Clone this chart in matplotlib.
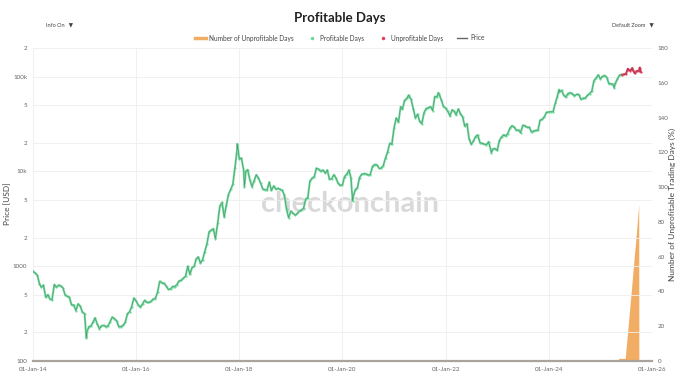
import pandas as pd
import numpy as np
import matplotlib
matplotlib.use('Agg')
import matplotlib.pyplot as plt
from matplotlib.lines import Line2D

plt.rcParams['font.family'] = ['Lato', 'DejaVu Sans']

# bitcoin price (USD) at the start of each month, Jan-2014 .. Oct-2025
start_dates = pd.date_range('2014-01-01', '2025-10-01', freq='MS')
start_usd = [
    # 2014
    880, 800, 600, 470, 450, 640, 630, 590, 480, 390, 340, 380,
    # 2015
    315, 230, 255, 245, 235, 230, 260, 280, 230, 238, 315, 375,
    # 2016
    430, 370, 435, 415, 450, 530, 670, 620, 575, 610, 700, 750,
    # 2017
    1000, 970, 1190, 1080, 1420, 2300, 2480, 2870, 4700, 4400, 6450, 10900,
    # 2018
    13500, 10200, 10400, 6900, 9200, 7500, 6400, 7700, 7000, 6600, 6300, 4000,
    # 2019
    3800, 3450, 3800, 4100, 5300, 8500, 10800, 10000, 9600, 8300, 9200, 7500,
    # 2020
    7200, 9350, 8600, 6400, 8600, 9450, 9150, 11300, 11700, 10800, 13800, 19700,
    # 2021
    29000, 33100, 45200, 58800, 57800, 36700, 33600, 41500, 47100, 43800, 61300, 56900,
    # 2022
    46300, 38500, 43200, 45500, 37700, 31800, 19300, 23300, 20100, 19400, 20500, 17200,
    # 2023
    16600, 23100, 23600, 28500, 29300, 27200, 30500, 29200, 25900, 27000, 34600, 37700,
    # 2024
    42300, 42600, 61200, 71300, 60600, 67500, 62700, 64600, 58900, 63300, 70200, 96400,
    # 2025
    94400, 102400, 84400, 82500, 94200, 104600, 107100, 115700, 108200, 114000,
]

# bitcoin price (USD) in the middle of each month, Jan-2014 .. Sep-2025
mid_dates = pd.date_range('2014-01-01', '2025-09-01', freq='MS') + pd.Timedelta(days=15)
mid_usd = [
    # 2014
    850, 650, 630, 500, 445, 600, 620, 500, 470, 390, 400, 330,
    # 2015
    200, 235, 285, 220, 237, 235, 290, 265, 230, 255, 330, 460,
    # 2016
    390, 400, 415, 425, 455, 690, 660, 570, 610, 640, 710, 780,
    # 2017
    820, 1000, 1250, 1170, 1700, 2400, 1950, 4300, 3300, 5700, 7300, 17000,
    # 2018
    13800, 10000, 8200, 8000, 8500, 6500, 6350, 6300, 6500, 6450, 5600, 3250,
    # 2019
    3600, 3600, 3900, 5100, 7900, 8800, 10500, 10300, 10300, 8300, 8500, 7100,
    # 2020
    8800, 10300, 5300, 6700, 9300, 9400, 9200, 11800, 10800, 11500, 16000, 19300,
    # 2021
    36500, 48000, 56000, 62000, 46000, 40000, 31800, 46000, 48000, 61500, 65000, 48500,
    # 2022
    43000, 44500, 39500, 40500, 30000, 22000, 20800, 24200, 19700, 19100, 16900, 17400,
    # 2023
    21000, 24300, 24900, 30300, 27200, 25600, 30300, 29200, 26600, 27100, 35500, 41900,
    # 2024
    42500, 52000, 69000, 63400, 66200, 66000, 64800, 57500, 59200, 66000, 90500, 104000,
    # 2025
    100500, 97500, 84000, 84500, 103500, 105500, 118000, 118000, 115000,
]

# extra points (peaks / troughs between the dates above)
extra_dates = pd.to_datetime(['2015-01-14', '2017-12-17', '2018-02-06', '2020-03-13',
                              '2021-04-14', '2021-11-10', '2022-11-21', '2024-03-14',
                              '2025-04-08', '2025-07-14', '2025-08-14', '2025-10-06',
                              '2025-10-15'])
extra_usd = [175, 19500, 6900, 4900, 63500, 67500, 15800, 73000, 76500,
             121000, 123000, 124500, 111000]

# first day counted as unprofitable
unprofitable_from = pd.Timestamp('2025-06-01')

# number of unprofitable days (right axis)
unprof_dates = pd.to_datetime(['2014-01-01', '2025-05-08', '2025-05-10', '2025-06-25',
                               '2025-07-15', '2025-08-05', '2025-08-25', '2025-09-15',
                               '2025-09-29', '2025-09-30', '2025-10-15'])
unprof_days = [0, 0, 1.5, 1.5, 19, 38, 57, 76, 90, 0, 0]

x_ticks = pd.to_datetime(['2014-01-01', '2016-01-01', '2018-01-01', '2020-01-01',
                          '2022-01-01', '2024-01-01', '2026-01-01'])
x_labels = ['01-Jan-14', '01-Jan-16', '01-Jan-18', '01-Jan-20',
            '01-Jan-22', '01-Jan-24', '01-Jan-26']
y_ticks = [100, 200, 500, 1000, 2000, 5000, 1e4, 2e4, 5e4, 1e5, 2e5]
y_labels = ['100', '2', '5', '1000', '2', '5', '10k', '2', '5', '100k', '2']
y2_ticks = list(range(0, 181, 20))

# combine price series
price = pd.Series(start_usd + mid_usd + extra_usd,
                  index=list(start_dates) + list(mid_dates) + list(extra_dates)).sort_index()
price = price[~price.index.duplicated()]

green = '#6bd99a'
red = '#e3405e'
orange = '#f2ad65'
grey = '#666666'
tick_col = '#666666'

fig = plt.figure(figsize=(6.8, 3.89), dpi=100)
ax = fig.add_axes([33 / 680, 1 - 361 / 389, 619 / 680, 313 / 389])
ax2 = ax.twinx()

# watermark (sits under the price line)
ax2.text(0.515, 0.476, 'checkonchain', fontsize=21, fontweight='bold',
         color='#d9d9d9', ha='center', va='center', transform=fig.transFigure, zorder=1)

# orange area on the right axis
ax2.fill_between(unprof_dates, unprof_days, 0, color=orange, lw=0, zorder=2)
ax2.set_ylim(0, 180)
ax2.set_yticks(y2_ticks)

# price, coloured by profitable / unprofitable
prof = price[price.index <= unprofitable_from]
unprof = price[price.index >= unprofitable_from]
ax.plot(prof.index, prof.values, color=green, lw=1.5, zorder=3, solid_capstyle='round')
ax.plot(unprof.index, unprof.values, color=red, lw=1.5, zorder=3, solid_capstyle='round')
ax.scatter(prof.index, prof.values, s=2.5, color=green, zorder=4, lw=0)
ax.scatter(unprof.index, unprof.values, s=2.5, color=red, zorder=4, lw=0)
ax.plot(price.index, price.values, color='#3a3a3a', lw=0.3, alpha=0.6, zorder=5)

ax.set_zorder(ax2.get_zorder() + 1)
ax.patch.set_visible(False)

ax.set_yscale('log')
ax.set_ylim(100, 10 ** 5.285)
ax.set_xlim(pd.Timestamp('2014-01-01'), pd.Timestamp('2026-01-01'))
ax.set_yticks(y_ticks)
ax.set_yticklabels(y_labels)
ax.yaxis.set_minor_locator(matplotlib.ticker.NullLocator())
ax.set_xticks(x_ticks)
ax.set_xticklabels(x_labels)

ax.grid(True, color='#eeeeee', lw=0.6)
ax.set_axisbelow(True)
for a in (ax, ax2):
    for s in a.spines.values():
        s.set_visible(False)
    a.tick_params(length=0, labelsize=4.5, colors=tick_col, pad=4)
ax.spines['bottom'].set_visible(True)
ax.spines['bottom'].set_color('#aaa39b')
ax.spines['bottom'].set_linewidth(1.6)

# axis titles placed in figure coordinates so they stay inside the canvas
fig.text(8 / 680, 1 - 204 / 389, 'Price [USD]', fontsize=6, color='#444444',
         rotation=90, ha='center', va='center')
fig.text(672 / 680, 1 - 204 / 389, 'Number of Unprofitable Trading Days (%)', fontsize=6,
         color='#444444', rotation=90, ha='center', va='center')

# title and controls
fig.text(0.5, 1 - 18 / 389, 'Profitable Days', fontsize=9.5, fontweight='bold',
         color='#222222', ha='center', va='center')
fig.text(46 / 680, 1 - 25 / 389, 'Info On   \u25BC', fontsize=4, color='#444444',
         va='center')
fig.text(612 / 680, 1 - 25 / 389, 'Default Zoom   \u25BC', fontsize=4,
         color='#444444', va='center')

handles = [
    Line2D([], [], color=orange, lw=2.5),
    Line2D([], [], color=green, marker='o', ls='', ms=1.5),
    Line2D([], [], color=red, marker='o', ls='', ms=1.5),
    Line2D([], [], color=grey, lw=1),
]
labels = ['Number of Unprofitable Days', 'Profitable Days', 'Unprofitable Days', 'Price']
fig.legend(handles, labels, loc='center', bbox_to_anchor=(0.5, 1 - 38 / 389),
           ncol=4, frameon=False, fontsize=4.7, handlelength=1.6, columnspacing=2.0,
           handletextpad=0.5, labelcolor='#444444')

fig.savefig('out.png', dpi=100)
